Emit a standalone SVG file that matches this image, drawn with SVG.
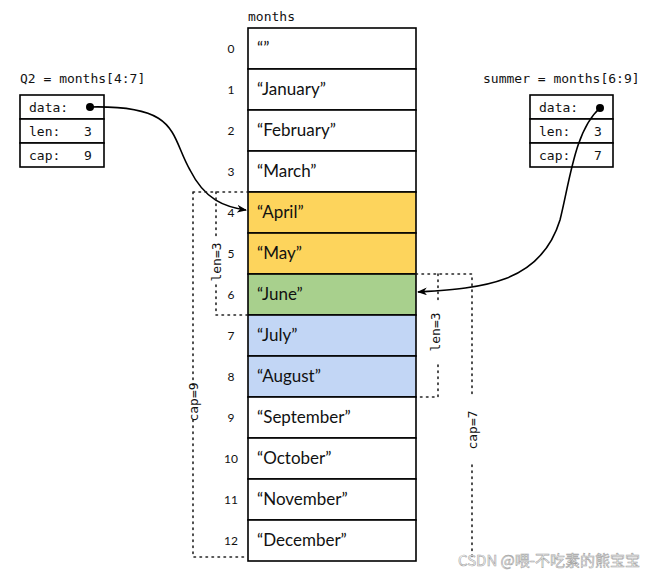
<svg xmlns="http://www.w3.org/2000/svg" width="655" height="580" viewBox="0 0 655 580">
<style>
.cell{stroke:#000;stroke-width:1.6}
.m{font-family:Lato,"Open Sans",sans-serif;font-size:17px;fill:#111}
.i{font-family:Lato,"Open Sans",sans-serif;font-size:12px;fill:#111;text-anchor:middle}
.c{font-family:"DejaVu Sans Mono",monospace;font-size:13px;fill:#111}
.dot{fill:none;stroke:#222;stroke-width:1.6;stroke-dasharray:1.5 4.5;stroke-linecap:round}
.box{fill:#fff;stroke:#000;stroke-width:1.6}
.arr{fill:none;stroke:#000;stroke-width:1.6}
</style>
<defs><marker id="ah" markerWidth="10" markerHeight="8" refX="9" refY="4" orient="auto" markerUnits="userSpaceOnUse"><path d="M0,0 L10,4 L0,8 L3,4 Z" fill="#000"/></marker></defs>
<rect width="655" height="580" fill="#fff"/>
<text class="c" x="248" y="21">months</text>
<g id="array">
<rect class="cell" x="248" y="28" width="168" height="41" fill="#fff"/>
<rect class="cell" x="248" y="69" width="168" height="41" fill="#fff"/>
<rect class="cell" x="248" y="110" width="168" height="41" fill="#fff"/>
<rect class="cell" x="248" y="151" width="168" height="41" fill="#fff"/>
<rect class="cell" x="248" y="192" width="168" height="41" fill="#fdd45c"/>
<rect class="cell" x="248" y="233" width="168" height="41" fill="#fdd45c"/>
<rect class="cell" x="248" y="274" width="168" height="41" fill="#a8d08d"/>
<rect class="cell" x="248" y="315" width="168" height="41" fill="#c2d6f5"/>
<rect class="cell" x="248" y="356" width="168" height="41" fill="#c2d6f5"/>
<rect class="cell" x="248" y="397" width="168" height="41" fill="#fff"/>
<rect class="cell" x="248" y="438" width="168" height="41" fill="#fff"/>
<rect class="cell" x="248" y="479" width="168" height="41" fill="#fff"/>
<rect class="cell" x="248" y="520" width="168" height="41" fill="#fff"/>
<text class="m" x="257" y="54">“”</text>
<text class="m" x="257" y="95">“January”</text>
<text class="m" x="257" y="136">“February”</text>
<text class="m" x="257" y="177">“March”</text>
<text class="m" x="257" y="218">“April”</text>
<text class="m" x="257" y="259">“May”</text>
<text class="m" x="257" y="300">“June”</text>
<text class="m" x="257" y="341">“July”</text>
<text class="m" x="257" y="382">“August”</text>
<text class="m" x="257" y="423">“September”</text>
<text class="m" x="257" y="464">“October”</text>
<text class="m" x="257" y="505">“November”</text>
<text class="m" x="257" y="546">“December”</text>
<text class="i" x="231" y="53">0</text>
<text class="i" x="231" y="94">1</text>
<text class="i" x="231" y="135">2</text>
<text class="i" x="231" y="176">3</text>
<text class="i" x="231" y="217">4</text>
<text class="i" x="231" y="258">5</text>
<text class="i" x="231" y="299">6</text>
<text class="i" x="231" y="340">7</text>
<text class="i" x="231" y="381">8</text>
<text class="i" x="231" y="422">9</text>
<text class="i" x="231" y="463">10</text>
<text class="i" x="231" y="504">11</text>
<text class="i" x="231" y="545">12</text>
</g>
<g id="q2">
<text class="c" x="20" y="83">Q2 = months[4:7]</text>
<rect class="box" x="20" y="95" width="84" height="24"/>
<rect class="box" x="20" y="119" width="84" height="24"/>
<rect class="box" x="20" y="143" width="84" height="24"/>
<text class="c" x="29" y="112">data:</text>
<text class="c" x="29" y="136">len:</text><text class="c" x="84" y="136">3</text>
<text class="c" x="29" y="160">cap:</text><text class="c" x="84" y="160">9</text>
<circle cx="90" cy="107" r="4" fill="#000"/>
</g>
<g id="summer">
<text class="c" x="483" y="83">summer = months[6:9]</text>
<rect class="box" x="530" y="95" width="83" height="24"/>
<rect class="box" x="530" y="119" width="83" height="24"/>
<rect class="box" x="530" y="143" width="83" height="24"/>
<text class="c" x="539" y="112">data:</text>
<text class="c" x="539" y="136">len:</text><text class="c" x="594" y="136">3</text>
<text class="c" x="539" y="160">cap:</text><text class="c" x="594" y="160">7</text>
</g>
<g id="connectors">
<path class="arr" d="M90,107 C180,105 170,135 190,170 C205,200 225,207 246,210" marker-end="url(#ah)"/>
<path class="arr" d="M600,108 C575,130 570,180 560,220 C540,285 480,288 418,292" marker-end="url(#ah)"/>
<circle cx="600" cy="108" r="4" fill="#000"/>
<path class="dot" d="M193,192 H248 M193,192 V385 M193,420 V557 H248"/>
<path class="dot" d="M216,192 V240 M216,285 V315 H248"/>
<path class="dot" d="M416,274 H472 V395 M472,465 V557"/>
<path class="dot" d="M438,274 V300 M438,365 V397 H416"/>
<text class="c" transform="translate(221,262) rotate(-90)" text-anchor="middle">len=3</text>
<text class="c" transform="translate(198,402) rotate(-90)" text-anchor="middle">cap=9</text>
<text class="c" transform="translate(440,332) rotate(-90)" text-anchor="middle">len=3</text>
<text class="c" transform="translate(477,430) rotate(-90)" text-anchor="middle">cap=7</text>
</g>
<text x="640" y="566" text-anchor="end" font-family="'Noto Sans CJK SC',sans-serif" font-size="15" fill="#fff" stroke="#999" stroke-width="0.6" opacity="0.9">CSDN @喂-不吃素的熊宝宝</text>
</svg>
